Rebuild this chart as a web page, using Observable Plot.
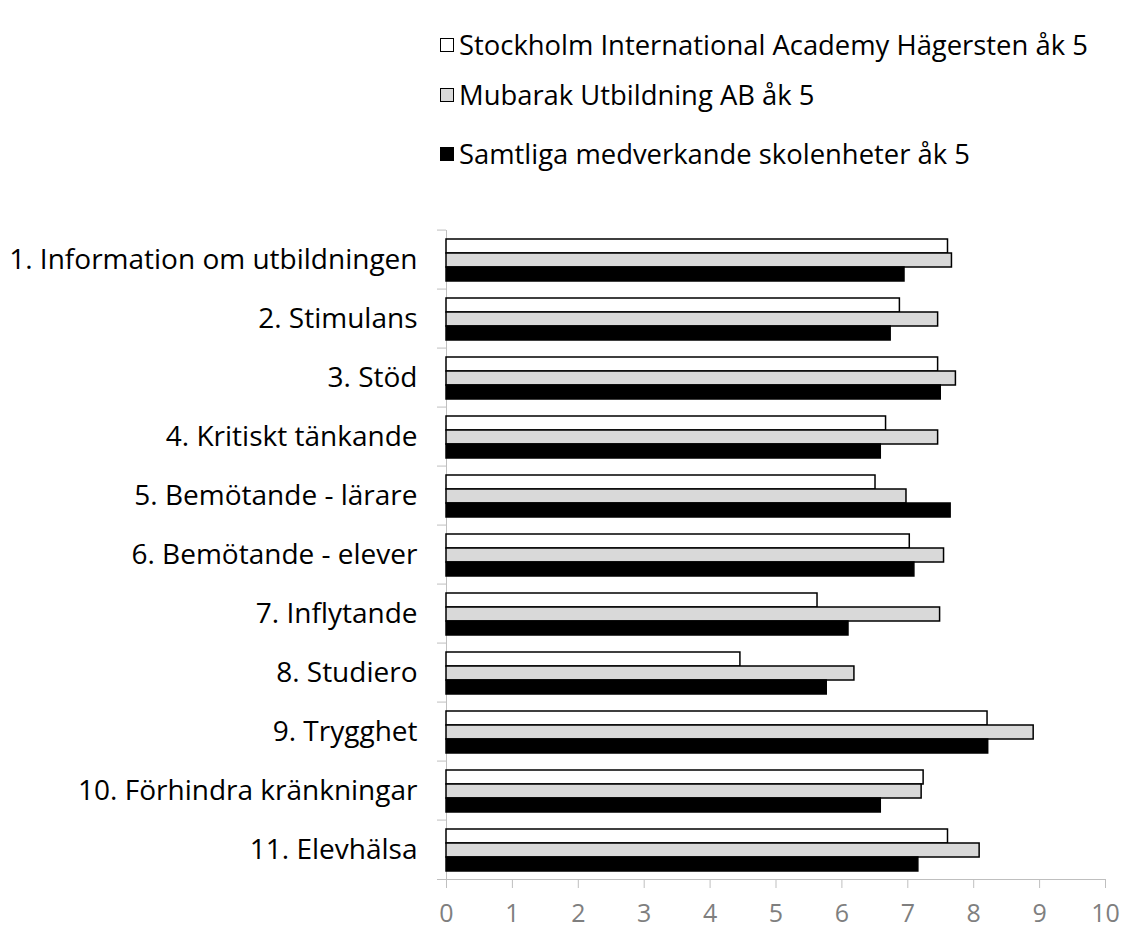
<!DOCTYPE html>
<html><head><meta charset="utf-8">
<script src="https://cdn.jsdelivr.net/npm/d3@7"></script>
<script src="https://cdn.jsdelivr.net/npm/@observablehq/plot@0.6"></script>
<style>
body{margin:0;background:#fff;font-family:"Open Sans",sans-serif;}
#legend{position:relative;height:215px;}
.item{position:absolute;left:440px;display:flex;align-items:center;font-size:27.4px;color:#000;white-space:nowrap;line-height:1;}
.sw{width:14px;height:14px;border:1.4px solid #000;margin-right:5px;box-sizing:border-box;}
</style></head><body>
<div id="legend"></div><div id="chart"></div>
<script>
const categories = [
  "1. Information om utbildningen","2. Stimulans","3. Stöd","4. Kritiskt tänkande",
  "5. Bemötande - lärare","6. Bemötande - elever","7. Inflytande","8. Studiero",
  "9. Trygghet","10. Förhindra kränkningar","11. Elevhälsa"
];
const seriesNames = [
  "Stockholm International Academy Hägersten åk 5",
  "Mubarak Utbildning AB åk 5",
  "Samtliga medverkande skolenheter åk 5"
];
const stockholmValues = [7.61, 6.88, 7.46, 6.67, 6.51, 7.03, 5.63, 4.46, 8.21, 7.24, 7.61];
const mubarakValues   = [7.67, 7.46, 7.73, 7.46, 6.98, 7.55, 7.49, 6.19, 8.91, 7.21, 8.09];
const samtligaValues  = [6.95, 6.74, 7.50, 6.59, 7.65, 7.10, 6.10, 5.77, 8.22, 6.59, 7.16];
const seriesColors = ["#ffffff", "#d9d9d9", "#000000"];
const xTicks = [0,1,2,3,4,5,6,7,8,9,10];

const valueLists = [stockholmValues, mubarakValues, samtligaValues];
const rows = [];
categories.forEach((c, i) => seriesNames.forEach((s, j) => rows.push({category: c, series: s, value: valueLists[j][i]})));

// legend
const legend = document.getElementById("legend");
const legendTops = [31, 81, 140];
seriesNames.forEach((s, j) => {
  const it = document.createElement("div");
  it.className = "item";
  it.style.top = legendTops[j] + "px";
  const sw = document.createElement("span");
  sw.className = "sw";
  sw.style.background = seriesColors[j];
  it.appendChild(sw);
  const t = document.createElement("span");
  t.textContent = s;
  it.appendChild(t);
  legend.appendChild(it);
});

const mTop = 10, plotH = 658, mBottom = 47;
const bw = plotH / categories.length;
const axisGray = "#bfbfbf";

const chart = Plot.plot({
  width: 1121,
  height: mTop + plotH + mBottom,
  marginTop: mTop, marginBottom: mBottom, marginLeft: 446, marginRight: 16,
  style: {fontFamily: "Open Sans", background: "#fff", overflow: "visible"},
  x: {domain: [0, 10], axis: null, label: null},
  y: {domain: seriesNames, axis: null, paddingInner: 0, paddingOuter: 0.47},
  fy: {domain: categories, padding: 0, axis: null, label: null},
  color: {domain: seriesNames, range: seriesColors},
  marks: [
    Plot.frame({anchor: "left", stroke: axisGray}),
    Plot.frame({anchor: "bottom", facetAnchor: "bottom", stroke: axisGray, insetLeft: -9}),
    Plot.barX(rows, {fy: "category", y: "series", x: "value", fill: "series", stroke: "#000", strokeWidth: 1.5}),
    Plot.axisFy({anchor: "left", label: null, tickSize: 0, tickPadding: 29, fontSize: 28, fill: "#000"}),
    Plot.axisFy({anchor: "left", label: null, text: null, tickSize: 9, stroke: axisGray, dy: -bw / 2}),
    Plot.axisX(xTicks, {anchor: "bottom", label: null, text: null, tickSize: 9, stroke: axisGray}),
    Plot.axisX(xTicks, {anchor: "bottom", label: null, tickSize: 0, tickPadding: 25, fontSize: 25, fill: "#7f7f7f"})
  ]
});
document.getElementById("chart").appendChild(chart);
</script>
</body></html>
